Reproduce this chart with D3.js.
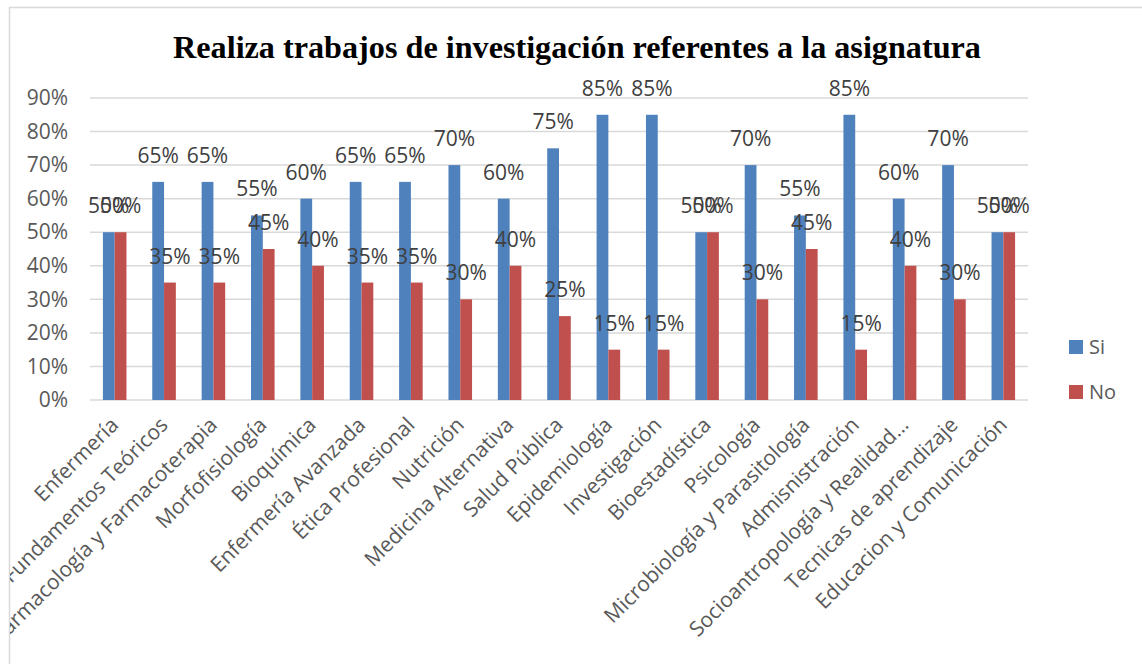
<!DOCTYPE html>
<html>
<head>
<meta charset="utf-8">
<script src="https://cdn.jsdelivr.net/npm/d3@7"></script>
<style>
  body { margin: 0; background: #fff; }
</style>
</head>
<body>
<div id="chart-area"></div>
<script>
const categories = [
  "Enfermería", "Fundamentos Teóricos", "Farmacología y Farmacoterapia", "Morfofisiología",
  "Bioquímica", "Enfermería Avanzada", "Ética Profesional", "Nutrición", "Medicina Alternativa",
  "Salud Pública", "Epidemiología", "Investigación", "Bioestadística", "Psicología",
  "Microbiología y Parasitología", "Admisnistración", "Socioantropología y Realidad…",
  "Tecnicas de aprendizaje", "Educacion y Comunicación"
]
const siValues = [50, 65, 65, 55, 60, 65, 65, 70, 60, 75, 85, 85, 50, 70, 55, 85, 60, 70, 50]
const noValues = [50, 35, 35, 45, 40, 35, 35, 30, 40, 25, 15, 15, 50, 30, 45, 15, 40, 30, 50]
const seriesNames = ["Si", "No"]
const yTicks = [0, 10, 20, 30, 40, 50, 60, 70, 80, 90]

const COLORS = { Si: "#4f81bd", No: "#c0504d" }
const MARGIN = { LEFT: 90, RIGHT: 114, TOP: 98, BOTTOM: 264 }
const W = 1142, H = 664
const WIDTH = W - MARGIN.LEFT - MARGIN.RIGHT
const HEIGHT = H - MARGIN.TOP - MARGIN.BOTTOM
const FONT = "Open Sans, sans-serif"

const data = categories.map((c, i) => ({ cat: c, Si: siValues[i], No: noValues[i] }))

const svg = d3.select("#chart-area").append("svg")
  .attr("width", W)
  .attr("height", H)

// labels are cut off at the chart frame
svg.append("defs").append("clipPath")
  .attr("id", "frame-clip")
  .append("rect")
    .attr("x", 10).attr("y", 8)
    .attr("width", W).attr("height", H)

// chart frame
svg.append("rect")
  .attr("x", 9.5).attr("y", 7.5)
  .attr("width", W).attr("height", H)
  .attr("fill", "none")
  .attr("stroke", "#d9d9d9")
  .attr("stroke-width", 1.5)

// Title
svg.append("text")
  .attr("x", 577)
  .attr("y", 58)
  .attr("text-anchor", "middle")
  .attr("font-family", "Liberation Serif, Times New Roman, serif")
  .attr("font-weight", "bold")
  .attr("font-size", "32.2px")
  .attr("fill", "#000")
  .text("Realiza trabajos de investigación referentes a la asignatura")

const outer = svg.append("g").attr("clip-path", "url(#frame-clip)")
const g = outer.append("g")
  .attr("transform", `translate(${MARGIN.LEFT}, ${MARGIN.TOP})`)

const x = d3.scaleBand()
  .domain(categories)
  .range([0, WIDTH])

const x1 = d3.scaleBand()
  .domain(seriesNames)
  .range([0, x.bandwidth()])
  .paddingInner(0)
  .paddingOuter(1.095)

const y = d3.scaleLinear()
  .domain([0, 90])
  .range([HEIGHT, 0])

// gridlines
g.append("g")
  .selectAll("line")
  .data(yTicks)
  .enter().append("line")
    .attr("x1", 0)
    .attr("x2", WIDTH)
    .attr("y1", d => y(d))
    .attr("y2", d => y(d))
    .attr("stroke", "#d9d9d9")
    .attr("stroke-width", 1.5)

// Y axis
const yAxisCall = d3.axisLeft(y)
  .tickValues(yTicks)
  .tickSize(0)
  .tickPadding(22)
  .tickFormat(d => d + "%")
g.append("g")
  .attr("class", "y axis")
  .call(yAxisCall)
  .call(s => s.select(".domain").remove())
  .selectAll("text")
    .attr("font-family", FONT)
    .attr("font-size", "21px")
    .attr("fill", "#595959")

// X axis labels
const xAxisCall = d3.axisBottom(x).tickSize(0).tickPadding(0)
g.append("g")
  .attr("class", "x axis")
  .attr("transform", `translate(0, ${HEIGHT})`)
  .call(xAxisCall)
  .call(s => s.select(".domain").remove())
  .selectAll("text")
    .attr("font-family", FONT)
    .attr("font-size", "21px")
    .attr("fill", "#595959")
    .attr("text-anchor", "end")
    .attr("y", 0)
    .attr("dy", "0.75em")
    .attr("transform", "translate(-6, 15) rotate(-45)")

// bars
const groups = g.selectAll(".cat")
  .data(data)
  .enter().append("g")
    .attr("class", "cat")
    .attr("transform", d => `translate(${x(d.cat)}, 0)`)

groups.selectAll("rect")
  .data(d => seriesNames.map(k => ({ key: k, value: d[k] })))
  .enter().append("rect")
    .attr("x", d => x1(d.key))
    .attr("y", d => y(d.value))
    .attr("width", x1.bandwidth())
    .attr("height", d => HEIGHT - y(d.value))
    .attr("fill", d => COLORS[d.key])

groups.selectAll(".lbl")
  .data(d => seriesNames.map(k => ({ key: k, value: d[k] })))
  .enter().append("text")
    .attr("class", "lbl")
    .attr("x", d => x1(d.key) + x1.bandwidth() / 2)
    .attr("y", d => y(d.value) - 19)
    .attr("text-anchor", "middle")
    .attr("font-family", FONT)
    .attr("font-size", "21px")
    .attr("fill", "#404040")
    .text(d => d.value + "%")

// Legend
const legend = svg.append("g")
  .selectAll("g")
  .data(seriesNames)
  .enter().append("g")
    .attr("transform", (d, i) => `translate(1069, ${340 + i * 45})`)

legend.append("rect")
  .attr("width", 14)
  .attr("height", 14)
  .attr("fill", d => COLORS[d])

legend.append("text")
  .attr("x", 20)
  .attr("y", 14)
  .attr("font-family", FONT)
  .attr("font-size", "20px")
  .attr("fill", "#595959")
  .text(d => d)
</script>
</body>
</html>
